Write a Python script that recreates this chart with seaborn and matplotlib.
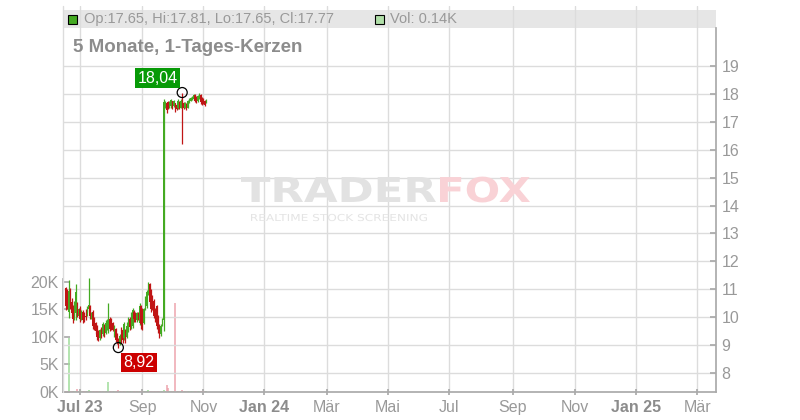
import matplotlib
matplotlib.use('Agg')
import matplotlib.pyplot as plt
from matplotlib.patches import Rectangle, PathPatch
from matplotlib.textpath import TextPath
from matplotlib.font_manager import FontProperties
from matplotlib import transforms
import numpy as np
import pandas as pd
import seaborn as sns

# Tageskerzen ab dem 16.06.2023 (Boersentage)
start_day = '2023-06-16'

opens = [11.05, 10.90, 10.20, 10.95, 10.55, 10.30, 9.95, 10.15, 10.45, 10.05, 10.30,
         10.30, 9.95, 10.20, 10.10, 10.05, 10.10, 10.30, 10.40, 10.00, 10.20,
         9.95, 9.80, 9.70, 9.50, 9.25, 9.60, 9.40, 9.70, 9.45, 9.60,
         9.55, 9.95, 9.90, 9.80, 9.35, 9.60, 9.35, 9.20, 9.05, 9.50,
         9.55, 9.25, 9.55, 9.30, 9.55, 9.95, 9.65, 9.70, 10.20, 10.15,
         9.90, 10.15, 9.80, 10.40, 10.25, 9.80, 10.30, 10.40, 10.85, 11.20,
         10.95, 10.75, 10.60, 10.30, 10.40, 10.05, 9.70, 9.40, 9.73, 9.90,
         17.53, 17.66, 17.70, 17.50, 17.55, 17.72, 17.55, 17.65, 17.60, 17.48,
         17.70, 17.50, 17.90, 17.68, 17.50, 17.62, 17.50, 17.68, 17.75, 17.78,
         17.80, 17.96, 17.88, 17.72, 17.82, 17.95, 17.85, 17.80, 17.75, 17.65]
highs = [11.10, 11.00, 11.33, 11.05, 10.70, 10.45, 10.60, 11.18, 10.55, 10.35, 10.35,
         10.40, 10.25, 10.25, 10.20, 10.30, 10.40, 11.40, 10.45, 10.20, 10.25,
         10.00, 9.85, 9.72, 9.55, 9.60, 9.65, 9.85, 9.75, 9.90, 9.95,
         10.50, 10.00, 9.97, 9.85, 9.73, 9.62, 9.45, 9.25, 9.40, 9.67,
         9.60, 9.85, 9.60, 9.85, 10.02, 10.00, 10.20, 10.32, 10.25, 10.20,
         10.20, 10.20, 10.50, 10.45, 10.32, 10.35, 10.75, 10.98, 11.27, 11.22,
         11.00, 10.80, 10.65, 10.35, 10.45, 10.08, 9.75, 9.75, 9.97, 17.80,
         17.75, 17.70, 17.74, 17.72, 17.80, 17.75, 17.78, 17.68, 17.62, 17.80,
         17.74, 17.80, 18.04, 17.70, 17.70, 17.65, 17.78, 17.84, 17.88, 17.92,
         18.00, 17.98, 17.92, 17.95, 18.02, 17.97, 17.88, 17.85, 17.78, 17.81]
lows = [10.25, 10.30, 9.97, 10.30, 10.05, 9.80, 9.90, 9.92, 10.00, 10.00, 9.95,
        9.85, 9.90, 9.80, 9.85, 9.90, 10.05, 10.20, 9.95, 9.95, 9.60,
        9.55, 9.40, 9.20, 9.17, 9.20, 9.25, 9.35, 9.30, 9.40, 9.55,
        9.43, 9.50, 9.55, 9.50, 9.30, 9.13, 9.05, 8.92, 9.00, 9.07,
        9.10, 9.20, 9.10, 9.25, 9.49, 9.55, 9.60, 9.61, 9.85, 9.85,
        9.85, 9.90, 9.73, 9.60, 9.55, 9.75, 10.25, 10.33, 10.80, 10.45,
        10.20, 10.25, 9.97, 9.85, 9.60, 9.43, 9.25, 9.35, 9.70, 9.50,
        17.50, 17.30, 17.45, 17.47, 17.50, 17.45, 17.52, 17.35, 17.40, 17.45,
        17.45, 17.48, 16.20, 17.45, 17.48, 17.40, 17.48, 17.65, 17.72, 17.76,
        17.77, 17.70, 17.66, 17.70, 17.80, 17.62, 17.60, 17.62, 17.55, 17.65]
closes = [10.40, 10.45, 10.95, 10.40, 10.15, 9.95, 10.50, 10.90, 10.10, 10.30, 10.05,
          9.95, 10.20, 9.90, 9.95, 10.00, 10.35, 10.45, 10.05, 10.15, 9.70,
          9.65, 9.50, 9.30, 9.25, 9.55, 9.35, 9.75, 9.40, 9.80, 9.85,
          10.05, 9.60, 9.65, 9.55, 9.65, 9.20, 9.12, 9.00, 9.35, 9.15,
          9.20, 9.75, 9.20, 9.70, 9.95, 9.65, 10.10, 10.25, 9.95, 9.90,
          10.15, 9.95, 10.40, 9.75, 9.65, 10.30, 10.65, 10.90, 11.20, 10.55,
          10.30, 10.35, 10.05, 9.95, 9.70, 9.55, 9.35, 9.70, 9.90, 17.71,
          17.71, 17.40, 17.50, 17.65, 17.76, 17.52, 17.72, 17.40, 17.45, 17.75,
          17.50, 17.72, 17.50, 17.50, 17.66, 17.45, 17.74, 17.80, 17.85, 17.88,
          17.96, 17.75, 17.70, 17.90, 17.98, 17.70, 17.66, 17.68, 17.60, 17.77]
# Volumen in Tausend Stueck
vol_k = [0.2, 0.1, 9.8, 0.2, 0.1, 0.1, 0.2, 0.1, 0.6, 0.1, 0.1,
         0.1, 0.2, 0.1, 0.1, 0.1, 0.2, 0.3, 0.1, 0.1, 0.1,
         0.1, 0.1, 0.2, 0.1, 0.1, 0.1, 0.1, 0.2, 0.1, 0.1,
         1.8, 0.1, 0.1, 0.2, 0.1, 0.1, 0.2, 0.3, 0.1, 0.1,
         0.1, 0.1, 0.1, 0.1, 0.2, 0.1, 0.1, 0.1, 0.1, 0.1,
         0.1, 0.1, 0.2, 0.1, 0.1, 0.1, 0.2, 0.1, 0.3, 0.2,
         0.1, 0.1, 0.1, 0.2, 0.1, 0.1, 0.2, 0.1, 0.1, 0.4,
         0.2, 1.3, 0.7, 0.1, 0.1, 0.1, 0.1, 16.2, 0.1, 0.1,
         0.1, 0.1, 0.3, 0.1, 0.1, 0.1, 0.1, 0.1, 0.1, 0.1,
         0.1, 0.1, 0.1, 0.1, 0.1, 0.1, 0.1, 0.1, 0.1, 0.14]

tick_months = pd.date_range('2023-07-01', '2025-03-01', freq='2MS')
tick_labels = ['Jul 23', 'Sep', 'Nov', 'Jan 24', 'Mär', 'Mai', 'Jul', 'Sep', 'Nov', 'Jan 25', 'Mär']
bold_labels = ['Jul 23', 'Jan 24', 'Jan 25']
price_ticks = list(range(8, 20))
vol_ticks = [0, 5, 10, 15, 20]

GREEN = '#44aa22'
RED = '#c01515'
VOL_GREEN = '#9edc98'
VOL_RED = '#eea4ae'
GRID = '#dcdcdc'
AXIS = '#aaaaaa'
TXT = '#999999'

sns.set_theme(style='white')
plt.rcParams['font.family'] = ['Liberation Sans', 'DejaVu Sans']

# x-Position = Anzahl Boersentage ab 01.07.2023
origin = np.datetime64('2023-07-01')
days = pd.bdate_range(start_day, periods=len(closes))
df = pd.DataFrame({
    'x': np.busday_count(origin, days.values.astype('datetime64[D]')),
    'open': opens, 'high': highs, 'low': lows, 'close': closes, 'vol': vol_k,
})
df['up'] = df['close'] >= df['open']
tick_x = np.busday_count(origin, tick_months.values.astype('datetime64[D]'))

fig = plt.figure(figsize=(8, 4.2), dpi=100)
ax = fig.add_axes([63 / 800, 28 / 420, 653 / 800, 386 / 420])
ax2 = ax.twinx()

# Volumen (linke Achse)
ax.vlines(df['x'], 0, df['vol'], colors=np.where(df['up'], VOL_GREEN, VOL_RED), lw=1.1, zorder=2)
ax.set_xlim(-12, 448.2)
ax.set_ylim(0, 70.0)
ax.set_yticks(vol_ticks)
ax.set_yticklabels([f'{v}K' for v in vol_ticks])
ax.set_xticks(tick_x)
ax.set_xticklabels(tick_labels)
ax.set_axisbelow(True)
ax.grid(True, axis='x', color=GRID, lw=1)
ax.grid(False, axis='y')
ax.add_patch(Rectangle((0, (392 - 28) / 386), 1, 18 / 386, transform=ax.transAxes,
                       fc='#e6e6e6', ec='none', zorder=0.1))

# Kerzen (rechte Achse)
col = np.where(df['up'], GREEN, RED)
ax2.vlines(df['x'], df['low'], df['high'], colors=col, lw=0.9, zorder=3)
body = (df['close'] - df['open']).abs().clip(lower=0.03)
ax2.bar(df['x'], body, bottom=df[['open', 'close']].min(axis=1), width=0.8,
        color=col, lw=0, zorder=3)
ax2.set_ylim(7.33, 21.135)
ax2.set_yticks(price_ticks)
ax2.set_yticklabels([str(p) for p in price_ticks])
ax2.set_axisbelow(True)
ax2.grid(True, axis='y', color=GRID, lw=1)
ax2.axvline(-12, color=GRID, lw=1, clip_on=False, zorder=0.5)

for spine in ['top', 'right']:
    ax.spines[spine].set_visible(False)
for spine in ['top', 'left', 'bottom']:
    ax2.spines[spine].set_visible(False)
ax.spines['left'].set_bounds(0, 20.5)
ax.spines['left'].set_color(AXIS)
ax.spines['bottom'].set_color(AXIS)
ax2.spines['right'].set_bounds(7.33, 20.35)
ax2.spines['right'].set_color(AXIS)

ax.tick_params(axis='y', direction='in', length=5, color=AXIS, labelcolor=TXT, labelsize=11.5, pad=3, left=True)
ax.tick_params(axis='x', direction='inout', length=4, color=AXIS, labelcolor=TXT, labelsize=11.5, pad=4, bottom=True)
ax2.tick_params(axis='y', direction='in', length=4, color=AXIS, labelcolor=TXT, labelsize=11.5, pad=4, right=True)
for lbl in ax.get_xticklabels():
    if lbl.get_text() in bold_labels:
        lbl.set_fontweight('bold')
        lbl.set_color('#8c8c8c')

# Hoch / Tief Markierungen
i_hi = int(np.argmax(highs))
i_lo = int(np.argmin(lows))
x_hi, x_lo = df['x'][i_hi], df['x'][i_lo]
sns.scatterplot(x=[x_hi, x_lo], y=[highs[i_hi], lows[i_lo]], ax=ax2, s=52, zorder=6, legend=False)
pts = ax2.collections[-1]
pts.set_facecolor('none')
pts.set_edgecolor('black')
pts.set_linewidth(0.9)
ax2.annotate(f'{highs[i_hi]:.2f}'.replace('.', ','), xy=(x_hi, highs[i_hi]), xytext=(-17.7, 10.2),
             textcoords='offset points', ha='center', va='center', color='white', fontsize=11.5,
             bbox=dict(boxstyle='square,pad=0.15', fc='#079a07', ec='none'), zorder=7)
ax2.annotate(f'{lows[i_lo]:.2f}'.replace('.', ','), xy=(x_lo, lows[i_lo]), xytext=(14.6, -10.8),
             textcoords='offset points', ha='center', va='center', color='white', fontsize=11.5,
             bbox=dict(boxstyle='square,pad=0.15', fc='#cc0000', ec='none'), zorder=7)


# Wasserzeichen, in Pixeln gesetzt und auf Breite gestreckt
def stretched_text(txt, left, base, width, cap, color, weight='bold'):
    tp = TextPath((0, 0), txt, size=1, prop=FontProperties(family='DejaVu Sans', weight=weight))
    ext = tp.get_extents()
    sx = width / ext.width
    sy = cap / 0.73
    tr = (transforms.Affine2D().translate(-ext.x0, 0).scale(sx, sy)
          .translate(left, 420 - base).scale(1 / 800, 1 / 420) + fig.transFigure)
    fig.add_artist(PathPatch(tp, transform=tr, fc=color, ec='none', zorder=0.05))


stretched_text('TRADER', 241, 202, 195, 25, '#e2e2e2')
stretched_text('FOX', 440, 202, 90, 25, '#f9d2d6')
stretched_text('REALTIME STOCK SCREENING', 251, 221, 176, 7, '#e4e4e4', weight='normal')

# Kopfzeile
fig.add_artist(Rectangle((68 / 800, 1 - 24 / 420), 9 / 800, 9 / 420, transform=fig.transFigure,
                         fc=GREEN, ec='black', lw=0.8))
fig.text(84 / 800, 1 - 19 / 420,
         f'Op:{opens[-1]:.2f}, Hi:{highs[-1]:.2f}, Lo:{lows[-1]:.2f}, Cl:{closes[-1]:.2f}',
         va='center', ha='left', fontsize=10.5, color=TXT)
fig.add_artist(Rectangle((375 / 800, 1 - 24 / 420), 9 / 800, 9 / 420, transform=fig.transFigure,
                         fc='#b0dfa8', ec='black', lw=0.8))
fig.text(390 / 800, 1 - 19 / 420, f'Vol: {vol_k[-1]:.2f}K', va='center', ha='left',
         fontsize=10.5, color=TXT)
fig.text(72.7 / 800, 1 - 47 / 420, '5 Monate, 1-Tages-Kerzen', va='center', ha='left',
         fontsize=13.5, fontweight='bold', color='#8c8c8c')

fig.savefig('out.png', dpi=100)
